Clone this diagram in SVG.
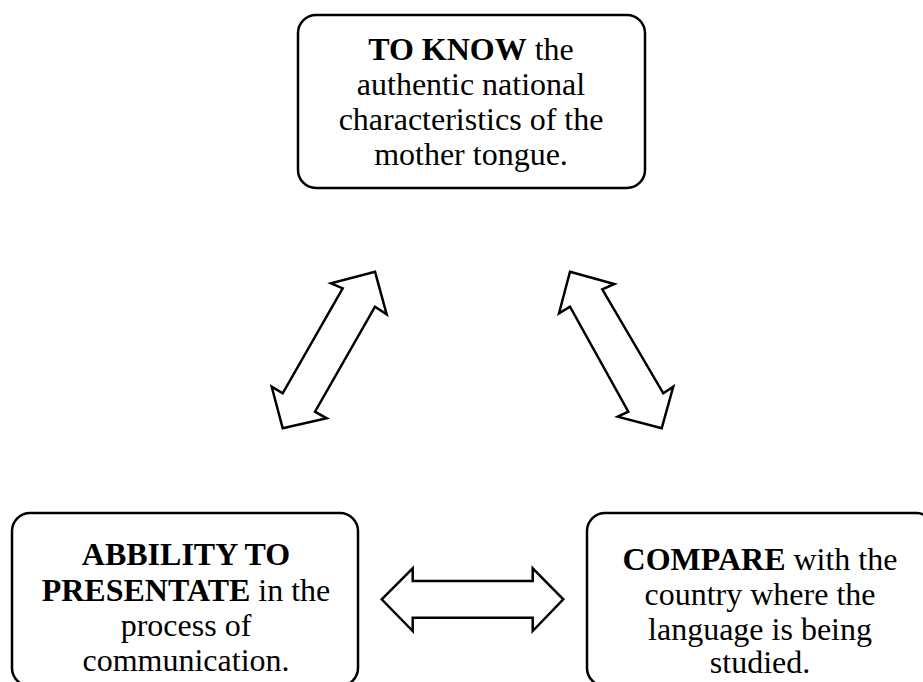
<svg xmlns="http://www.w3.org/2000/svg" width="923" height="682" viewBox="0 0 923 682">
<style>
.box{fill:#fff;stroke:#000;stroke-width:2.5}
.t{font-family:"Liberation Serif","Times New Roman",serif;font-size:32px;fill:#000;text-anchor:middle}
.b{font-weight:bold}
.arr{fill:#fff;stroke:#000;stroke-width:2.5;stroke-linejoin:miter}
</style>
<rect width="923" height="682" fill="#fff"/>
<g id="node-know">
<rect class="box" x="298" y="15" width="347" height="173" rx="18"/>
<text class="t" x="471" y="60"><tspan class="b">TO KNOW</tspan> the</text>
<text class="t" x="471" y="95">authentic national</text>
<text class="t" x="471" y="130">characteristics of the</text>
<text class="t" x="471" y="165">mother tongue.</text>
</g>
<g id="node-ability">
<rect class="box" x="12" y="513" width="346" height="173" rx="18"/>
<text class="t" x="186" y="565"><tspan class="b">ABBILITY TO</tspan></text>
<text class="t" x="186" y="601"><tspan class="b">PRESENTATE</tspan> in the</text>
<text class="t" x="186" y="636">process of</text>
<text class="t" x="186" y="671">communication.</text>
</g>
<g id="node-compare">
<rect class="box" x="587" y="513" width="347" height="173" rx="18"/>
<text class="t" x="760" y="570"><tspan class="b">COMPARE</tspan> with the</text>
<text class="t" x="760" y="605">country where the</text>
<text class="t" x="760" y="640">language is being</text>
<text class="t" x="760" y="673">studied.</text>
</g>
<g id="connectors">
<polygon class="arr" points="375,271.7 386.7,314.3 375,306.7 315,411.7 326.7,418.3 282.7,428.3 271.7,386.7 282.7,393.3 342.7,288.3 331,283.3"/>
<polygon class="arr" points="570,271.7 614.3,284 602.3,289.3 663.3,393.3 673.3,386.7 661.7,428.3 617.7,416.7 628.3,411.7 570,306.7 559,313.3"/>
<polygon class="arr" points="381.7,599.3 412.7,568.3 412.7,581 532.7,581 532.7,568.3 563.3,599.3 532.7,631 532.7,617.7 412.7,617.7 412.7,631"/>
</g>
</svg>
